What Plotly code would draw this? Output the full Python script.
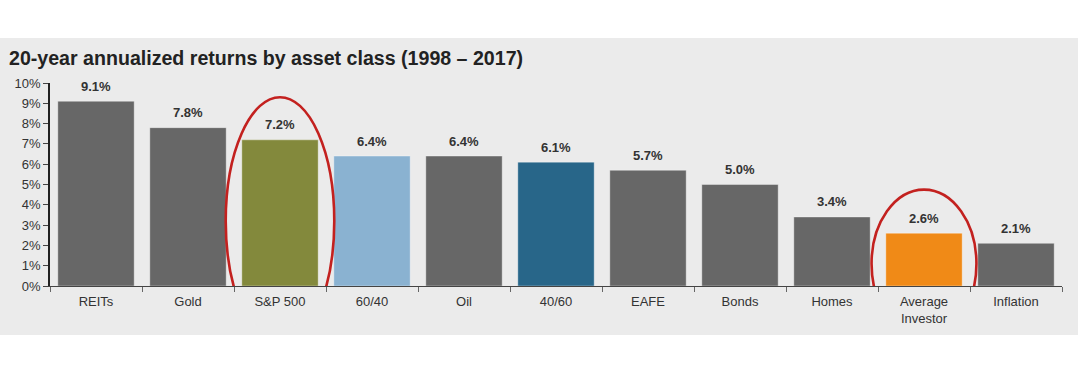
import plotly.graph_objects as go

categories = ["REITs", "Gold", "S&P 500", "60/40", "Oil", "40/60", "EAFE", "Bonds", "Homes", "Average<br>Investor", "Inflation"]
returns = [9.1, 7.8, 7.2, 6.4, 6.4, 6.1, 5.7, 5.0, 3.4, 2.6, 2.1]
labels = ["9.1%", "7.8%", "7.2%", "6.4%", "6.4%", "6.1%", "5.7%", "5.0%", "3.4%", "2.6%", "2.1%"]
bar_colors = ["#676767", "#676767", "#83893c", "#8ab2d1", "#676767", "#286689",
              "#676767", "#676767", "#676767", "#f08a17", "#676767"]
y_ticks = [0, 1, 2, 3, 4, 5, 6, 7, 8, 9, 10]
y_tick_text = [f"{v}%" for v in y_ticks]

fig = go.Figure()
fig.add_trace(go.Bar(
    x=categories, y=returns,
    marker=dict(color=bar_colors, line=dict(color="rgba(255,255,255,0.35)", width=1)),
    width=0.83, cliponaxis=False, hoverinfo="skip",
))

W, H = 1080, 376
ml, mr, mt, mb = 50, 18, 83, 90
pw, ph = W - ml - mr, H - mt - mb

def px(x):
    return (x - ml) / pw

def py(y):
    return (H - mb - y) / ph

shapes = [
    dict(type="rect", xref="paper", yref="paper", x0=px(0), x1=px(1078), y0=py(335), y1=py(38),
         fillcolor="#ebebeb", line=dict(width=0), layer="below"),
    dict(type="circle", xref="x", yref="y", x0=2 - 0.59, x1=2 + 0.59, y0=-2.9, y1=9.3,
         line=dict(color="#c3211f", width=2.6)),
    dict(type="circle", xref="x", yref="y", x0=9 - 0.57, x1=9 + 0.57, y0=-2.55, y1=4.75,
         line=dict(color="#c3211f", width=2.6)),
]

annotations = [dict(text="<b>20-year annualized returns by asset class (1998 – 2017)</b>",
                    xref="paper", yref="paper", x=px(7), y=py(58), xanchor="left", yanchor="middle",
                    showarrow=False, font=dict(size=19.6, color="#222222"))]
for cat, val, lab in zip(categories, returns, labels):
    annotations.append(dict(x=cat, y=val, text=f"<b>{lab}</b>", xref="x", yref="y",
                            showarrow=False, yanchor="middle", yshift=15,
                            font=dict(size=13, color="#333333")))

fig.update_layout(
    width=W, height=H,
    margin=dict(l=ml, r=mr, t=mt, b=mb),
    paper_bgcolor="white", plot_bgcolor="rgba(0,0,0,0)",
    showlegend=False, bargap=0.17,
    font=dict(family="Liberation Sans, Arial", color="#333333"),
    shapes=shapes,
    annotations=annotations,
    xaxis=dict(type="category", showline=True, linecolor="#444444", linewidth=1.2,
               ticks="outside", tickson="boundaries", ticklen=5, tickcolor="#666666",
               ticklabelstandoff=3,
               tickfont=dict(size=13, color="#333333"), showgrid=False, fixedrange=True),
    yaxis=dict(range=[0, 10], tickvals=y_ticks, ticktext=y_tick_text, showline=True,
               linecolor="#222222", linewidth=1.5, ticks="outside", ticklen=5, tickcolor="#444444",
               tickfont=dict(size=13, color="#333333"), showgrid=False, zeroline=False, fixedrange=True),
)

fig.write_html("out.html", config={"displayModeBar": False},
               post_script="document.body.style.margin='0';")
